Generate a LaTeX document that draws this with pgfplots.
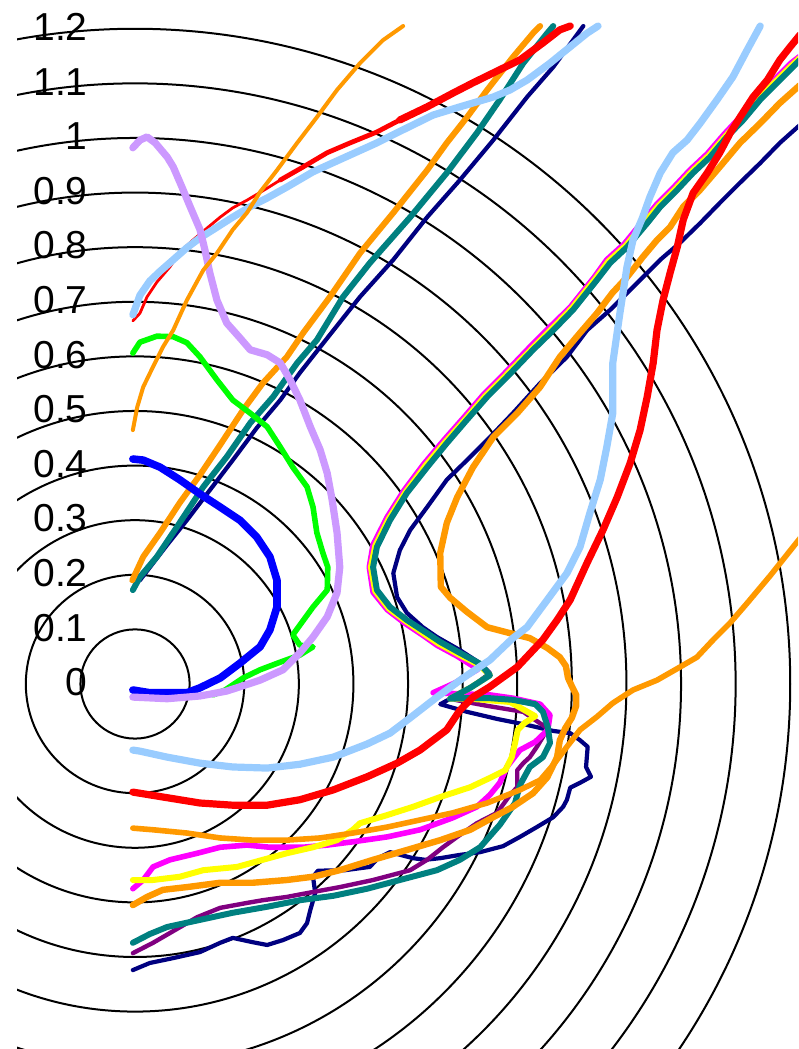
\documentclass[border=0pt]{standalone}
\usepackage{pgfplots}
\pgfplotsset{compat=1.18}
\usepackage{fontspec}
\setmainfont{Liberation Sans}
\definecolor{lav}{HTML}{CC99FF}
\definecolor{grn}{HTML}{00FF00}
\definecolor{blu}{HTML}{0000FF}
\definecolor{lblue}{HTML}{99CCFF}
\definecolor{rd}{HTML}{FF0000}
\definecolor{org}{HTML}{FF9900}
\definecolor{tl}{HTML}{008080}
\definecolor{nv}{HTML}{000080}
\definecolor{mg}{HTML}{FF00FF}
\definecolor{yl}{HTML}{FFFF00}
\definecolor{pp}{HTML}{800080}
\newcommand{\lbl}{\fontsize{19.5}{20}\selectfont}
\begin{document}
\begin{tikzpicture}
\begin{axis}[
  x=273pt, y=273pt,
  xmin=-0.2473, xmax=1.2143, ymin=-0.6685, ymax=1.2527,
  hide axis, clip=true,
  every axis plot/.append style={mark=none, line join=round, line cap=round},
]
\path (rel axis cs:0,0) rectangle (rel axis cs:1,1);
\begin{scope}
\clip (axis cs:-0.216,-0.6685) rectangle (axis cs:1.2143,1.2527);
\draw[line width=1pt] (axis cs:0,0) circle[radius=0.1];
\draw[line width=1pt] (axis cs:0,0) circle[radius=0.2];
\draw[line width=1pt] (axis cs:0,0) circle[radius=0.3];
\draw[line width=1pt] (axis cs:0,0) circle[radius=0.4];
\draw[line width=1pt] (axis cs:0,0) circle[radius=0.5];
\draw[line width=1pt] (axis cs:0,0) circle[radius=0.6];
\draw[line width=1pt] (axis cs:0,0) circle[radius=0.7];
\draw[line width=1pt] (axis cs:0,0) circle[radius=0.8];
\draw[line width=1pt] (axis cs:0,0) circle[radius=0.9];
\draw[line width=1pt] (axis cs:0,0) circle[radius=1.0];
\draw[line width=1pt] (axis cs:0,0) circle[radius=1.1];
\draw[line width=1pt] (axis cs:0,0) circle[radius=1.2];
\end{scope}
\node[anchor=east, inner sep=0pt, font=\lbl] at (axis cs:-0.086,0.004) {0};
\node[anchor=east, inner sep=0pt, font=\lbl] at (axis cs:-0.086,0.103) {0.1};
\node[anchor=east, inner sep=0pt, font=\lbl] at (axis cs:-0.086,0.203) {0.2};
\node[anchor=east, inner sep=0pt, font=\lbl] at (axis cs:-0.086,0.303) {0.3};
\node[anchor=east, inner sep=0pt, font=\lbl] at (axis cs:-0.086,0.403) {0.4};
\node[anchor=east, inner sep=0pt, font=\lbl] at (axis cs:-0.086,0.503) {0.5};
\node[anchor=east, inner sep=0pt, font=\lbl] at (axis cs:-0.086,0.603) {0.6};
\node[anchor=east, inner sep=0pt, font=\lbl] at (axis cs:-0.086,0.703) {0.7};
\node[anchor=east, inner sep=0pt, font=\lbl] at (axis cs:-0.086,0.803) {0.8};
\node[anchor=east, inner sep=0pt, font=\lbl] at (axis cs:-0.086,0.903) {0.9};
\node[anchor=east, inner sep=0pt, font=\lbl] at (axis cs:-0.086,1.003) {1};
\node[anchor=east, inner sep=0pt, font=\lbl] at (axis cs:-0.086,1.103) {1.1};
\node[anchor=east, inner sep=0pt, font=\lbl] at (axis cs:-0.086,1.203) {1.2};

% navy, right-hand trajectory
\addplot[draw=nv, line width=2.1pt] coordinates {
(-0.004,-0.524) (0.027,-0.511) (0.070,-0.502) (0.119,-0.491) (0.156,-0.474) (0.179,-0.465)
(0.216,-0.473) (0.242,-0.478) (0.271,-0.469) (0.302,-0.456) (0.315,-0.438) (0.321,-0.414)
(0.330,-0.383) (0.326,-0.353) (0.335,-0.342) (0.385,-0.341) (0.430,-0.335) (0.445,-0.319)
(0.467,-0.308) (0.509,-0.319) (0.531,-0.322) (0.559,-0.319) (0.595,-0.313) (0.632,-0.308)
(0.674,-0.297) (0.705,-0.280) (0.736,-0.262) (0.766,-0.244) (0.784,-0.225) (0.791,-0.212)
(0.797,-0.190) (0.815,-0.181) (0.835,-0.170) (0.826,-0.152) (0.829,-0.115) (0.815,-0.103)
(0.797,-0.090) (0.766,-0.086) (0.718,-0.075) (0.663,-0.064) (0.608,-0.051) (0.559,-0.037)
(0.614,-0.007) (0.650,0.020) (0.632,0.038) (0.595,0.062) (0.553,0.086) (0.527,0.104)
(0.498,0.130) (0.480,0.159) (0.473,0.203) (0.485,0.245) (0.504,0.282) (0.535,0.324)
(0.571,0.374) (0.608,0.410) (0.650,0.452) (0.692,0.496) (0.742,0.551) (0.791,0.599)
(0.828,0.648) (0.870,0.685) (0.901,0.716) (0.930,0.745) (0.962,0.777) (0.998,0.808)
(1.035,0.844) (1.071,0.881) (1.108,0.918) (1.145,0.954) (1.181,0.991) (1.218,1.024)
};
% purple
\addplot[draw=pp, line width=2.2pt] coordinates {
(-0.004,-0.493) (0.033,-0.474) (0.064,-0.456) (0.114,-0.427) (0.156,-0.410) (0.205,-0.401)
(0.234,-0.396) (0.278,-0.390) (0.315,-0.383) (0.375,-0.372) (0.436,-0.359) (0.504,-0.341)
(0.535,-0.322) (0.564,-0.299) (0.590,-0.280) (0.626,-0.255) (0.663,-0.236) (0.687,-0.203)
(0.700,-0.189) (0.700,-0.158) (0.711,-0.145) (0.723,-0.134) (0.736,-0.115) (0.747,-0.097)
(0.755,-0.081) (0.736,-0.068) (0.711,-0.051) (0.681,-0.046) (0.645,-0.040) (0.586,-0.029)
(0.614,-0.007) (0.650,0.016) (0.632,0.037) (0.595,0.057) (0.559,0.077) (0.535,0.093)
(0.498,0.117) (0.467,0.141) (0.443,0.172) (0.436,0.214) (0.443,0.251) (0.467,0.300)
(0.498,0.350) (0.535,0.397) (0.571,0.441) (0.608,0.484) (0.645,0.526) (0.681,0.562)
(0.729,0.612) (0.766,0.648) (0.802,0.685) (0.846,0.740) (0.870,0.771) (0.901,0.800)
(0.938,0.844) (0.962,0.874) (0.993,0.905) (1.022,0.936) (1.053,0.965) (1.084,1.002)
(1.114,1.033) (1.145,1.070) (1.176,1.101) (1.205,1.130) (1.218,1.143)
};
% magenta
\addplot[draw=mg, line width=2.8pt] coordinates {
(-0.004,-0.375) (0.015,-0.359) (0.033,-0.335) (0.064,-0.322) (0.114,-0.310) (0.156,-0.299)
(0.205,-0.295) (0.247,-0.299) (0.308,-0.299) (0.352,-0.295) (0.399,-0.289) (0.462,-0.280)
(0.522,-0.267) (0.582,-0.245) (0.626,-0.225) (0.650,-0.203) (0.668,-0.181) (0.681,-0.152)
(0.705,-0.121) (0.733,-0.106) (0.756,-0.084) (0.760,-0.057) (0.742,-0.037) (0.692,-0.026)
(0.650,-0.020) (0.595,-0.018) (0.546,-0.016) (0.586,0.002) (0.628,0.027) (0.590,0.051)
(0.553,0.071) (0.529,0.088) (0.493,0.112) (0.462,0.136) (0.436,0.168) (0.429,0.214)
(0.436,0.255) (0.462,0.306) (0.493,0.355) (0.529,0.403) (0.566,0.447) (0.603,0.489)
(0.639,0.531) (0.676,0.568) (0.723,0.617) (0.760,0.654) (0.797,0.690) (0.841,0.745)
(0.864,0.777) (0.896,0.806) (0.932,0.850) (0.956,0.879) (0.987,0.910) (1.016,0.941)
(1.048,0.971) (1.079,1.007) (1.108,1.038) (1.139,1.075) (1.170,1.106) (1.200,1.136)
(1.218,1.150)
};
% yellow
\addplot[draw=yl, line width=3pt] coordinates {
(-0.004,-0.359) (0.033,-0.359) (0.082,-0.353) (0.125,-0.341) (0.187,-0.335) (0.234,-0.322)
(0.278,-0.310) (0.326,-0.299) (0.370,-0.286) (0.399,-0.267) (0.412,-0.255) (0.462,-0.240)
(0.509,-0.225) (0.559,-0.207) (0.614,-0.189) (0.650,-0.172) (0.678,-0.158) (0.690,-0.134)
(0.696,-0.108) (0.701,-0.084) (0.714,-0.071) (0.733,-0.059) (0.687,-0.033) (0.614,-0.027)
(0.577,-0.027) (0.614,-0.007) (0.650,0.016) (0.630,0.035) (0.593,0.054) (0.556,0.074)
(0.532,0.090) (0.496,0.115) (0.465,0.138) (0.440,0.170) (0.432,0.214) (0.440,0.253)
(0.465,0.303) (0.496,0.352) (0.532,0.400) (0.569,0.444) (0.606,0.486) (0.642,0.528)
(0.679,0.565) (0.727,0.614) (0.764,0.651) (0.800,0.688) (0.843,0.742) (0.867,0.774)
(0.899,0.803) (0.935,0.847) (0.959,0.876) (0.990,0.907) (1.019,0.938) (1.051,0.968)
(1.082,1.004) (1.111,1.035) (1.142,1.072) (1.173,1.103) (1.203,1.133) (1.218,1.147)
};
% teal, right-hand trajectory
\addplot[draw=tl, line width=3pt] coordinates {
(-0.004,-0.474) (0.027,-0.458) (0.059,-0.445) (0.119,-0.432) (0.179,-0.419) (0.242,-0.408)
(0.302,-0.396) (0.363,-0.388) (0.425,-0.375) (0.485,-0.359) (0.553,-0.341) (0.595,-0.322)
(0.632,-0.299) (0.668,-0.258) (0.696,-0.218) (0.705,-0.185) (0.723,-0.152) (0.747,-0.134)
(0.760,-0.108) (0.756,-0.079) (0.747,-0.051) (0.733,-0.037) (0.692,-0.029) (0.650,-0.026)
(0.601,-0.026) (0.577,-0.027) (0.614,-0.007) (0.650,0.016) (0.632,0.037) (0.595,0.057)
(0.559,0.077) (0.535,0.093) (0.498,0.117) (0.467,0.141) (0.443,0.172) (0.436,0.214)
(0.443,0.251) (0.467,0.300) (0.498,0.350) (0.535,0.397) (0.571,0.441) (0.608,0.484)
(0.645,0.526) (0.681,0.562) (0.729,0.612) (0.766,0.648) (0.802,0.685) (0.846,0.740)
(0.870,0.771) (0.901,0.800) (0.938,0.844) (0.962,0.874) (0.993,0.905) (1.022,0.936)
(1.053,0.965) (1.084,1.002) (1.114,1.033) (1.145,1.070) (1.176,1.101) (1.205,1.130)
(1.218,1.143)
};
% orange B (lower, with loop)
\addplot[draw=org, line width=3.2pt] coordinates {
(-0.004,-0.405) (0.022,-0.390) (0.051,-0.377) (0.095,-0.372) (0.156,-0.364) (0.216,-0.364)
(0.278,-0.359) (0.326,-0.353) (0.375,-0.341) (0.436,-0.322) (0.498,-0.304) (0.559,-0.286)
(0.614,-0.267) (0.656,-0.244) (0.692,-0.225) (0.729,-0.200) (0.755,-0.171) (0.773,-0.134)
(0.778,-0.103) (0.788,-0.081) (0.800,-0.062) (0.808,-0.040) (0.808,-0.020) (0.800,-0.004)
(0.793,0.011) (0.789,0.033) (0.778,0.049) (0.755,0.066) (0.723,0.084) (0.687,0.093)
(0.645,0.104) (0.608,0.132) (0.577,0.158) (0.560,0.178) (0.559,0.240) (0.571,0.295)
(0.590,0.342) (0.619,0.397) (0.656,0.452) (0.700,0.496) (0.742,0.544) (0.778,0.599)
(0.815,0.643) (0.846,0.679) (0.874,0.716) (0.901,0.745) (0.930,0.782) (0.956,0.813)
(0.980,0.837) (1.004,0.874) (1.035,0.905) (1.071,0.947) (1.108,0.991) (1.145,1.027)
(1.181,1.064) (1.218,1.097)
};
% orange A (upper flat, then thin diagonal)
\addplot[draw=org, line width=2.8pt] coordinates {
(-0.004,-0.264) (0.033,-0.267) (0.095,-0.273) (0.156,-0.282) (0.216,-0.286) (0.278,-0.286)
(0.339,-0.282) (0.399,-0.273) (0.462,-0.262) (0.522,-0.249) (0.582,-0.236) (0.645,-0.218)
(0.705,-0.194) (0.742,-0.176) (0.766,-0.148) (0.791,-0.115) (0.815,-0.084) (0.846,-0.060)
(0.875,-0.035) (0.912,-0.011) (0.956,0.007) (0.998,0.031) (1.029,0.049) (1.059,0.081)
(1.090,0.112) (1.121,0.148) (1.163,0.198) (1.218,0.267)
};
% upper-left bundle: navy, teal, orange
\addplot[draw=nv, line width=2.1pt] coordinates {
(0.009,0.190) (0.059,0.255) (0.095,0.300) (0.137,0.355) (0.179,0.410) (0.223,0.469)
(0.266,0.520) (0.302,0.570) (0.339,0.617) (0.381,0.670) (0.412,0.709) (0.473,0.777)
(0.535,0.855) (0.595,0.923) (0.656,0.996) (0.718,1.075) (0.766,1.130) (0.802,1.179)
(0.821,1.205)
};
\addplot[draw=tl, line width=3pt] coordinates {
(-0.004,0.172) (0.009,0.196) (0.040,0.233) (0.077,0.288) (0.125,0.361) (0.168,0.416)
(0.211,0.478) (0.253,0.526) (0.297,0.588) (0.333,0.630) (0.381,0.709) (0.430,0.771)
(0.504,0.855) (0.571,0.936) (0.626,1.009) (0.668,1.070) (0.711,1.137) (0.755,1.192)
(0.766,1.205)
};
\addplot[draw=org, line width=3pt] coordinates {
(-0.005,0.190) (0.015,0.233) (0.046,0.277) (0.082,0.332) (0.119,0.383) (0.156,0.438)
(0.198,0.502) (0.234,0.551) (0.278,0.599) (0.308,0.643) (0.357,0.709) (0.412,0.789)
(0.473,0.863) (0.535,0.941) (0.571,0.991) (0.608,1.038) (0.645,1.088) (0.692,1.148)
(0.729,1.192) (0.742,1.205)
};
% red, lower trajectory
\addplot[draw=rd, line width=3.6pt] coordinates {
(-0.004,-0.198) (0.051,-0.207) (0.119,-0.218) (0.179,-0.222) (0.242,-0.222) (0.302,-0.212)
(0.363,-0.194) (0.425,-0.170) (0.480,-0.145) (0.522,-0.121) (0.571,-0.084) (0.595,-0.048)
(0.619,-0.024) (0.650,-0.005) (0.700,0.031) (0.747,0.081) (0.773,0.117) (0.797,0.154)
(0.828,0.222) (0.857,0.282) (0.883,0.342) (0.907,0.405) (0.925,0.465) (0.938,0.526)
(0.949,0.588) (0.956,0.648) (0.967,0.703) (0.980,0.753) (0.993,0.800) (1.004,0.850)
(1.022,0.899) (1.048,0.936) (1.071,0.973) (1.090,1.009) (1.108,1.038) (1.132,1.075)
(1.158,1.106) (1.181,1.143) (1.200,1.167) (1.218,1.189)
};
% red, upper trajectory (thin, then thick)
\addplot[draw=rd, line width=1.4pt] coordinates {
(-0.004,0.665) (0.009,0.679) (0.022,0.709) (0.040,0.736) (0.064,0.764) (0.082,0.791)
(0.106,0.813) (0.132,0.835) (0.156,0.855) (0.179,0.872) (0.205,0.886) (0.242,0.908)
(0.266,0.923)
};
\addplot[draw=rd, line width=2.4pt] coordinates {
(0.266,0.923) (0.308,0.947) (0.352,0.973) (0.394,0.991) (0.443,1.011) (0.485,1.033)
};
\addplot[draw=rd, line width=3.6pt] coordinates {
(0.485,1.033) (0.535,1.057) (0.582,1.082) (0.619,1.101) (0.668,1.125) (0.705,1.143)
(0.747,1.174) (0.778,1.198) (0.797,1.205)
};
% light blue, lower trajectory
\addplot[draw=lblue, line width=3.6pt] coordinates {
(-0.004,-0.121) (0.009,-0.123) (0.059,-0.134) (0.119,-0.145) (0.179,-0.152) (0.242,-0.154)
(0.302,-0.147) (0.363,-0.134) (0.425,-0.110) (0.467,-0.090) (0.504,-0.062) (0.553,-0.024)
(0.601,0.011) (0.650,0.044) (0.692,0.084) (0.718,0.104) (0.755,0.154) (0.791,0.203)
(0.815,0.251) (0.833,0.313) (0.852,0.374) (0.864,0.434) (0.875,0.496) (0.875,0.588)
(0.888,0.679) (0.901,0.764) (0.912,0.813) (0.929,0.853) (0.943,0.892) (0.962,0.936)
(0.985,0.973) (1.011,0.996) (1.035,1.027) (1.066,1.070) (1.095,1.112) (1.121,1.161)
(1.145,1.205)
};
% light blue, upper trajectory
\addplot[draw=lblue, line width=3.6pt] coordinates {
(-0.004,0.676) (0.009,0.712) (0.027,0.738) (0.046,0.756) (0.070,0.777) (0.095,0.799)
(0.119,0.817) (0.143,0.832) (0.179,0.855) (0.216,0.877) (0.242,0.890) (0.278,0.910)
(0.326,0.938) (0.381,0.963) (0.443,0.991) (0.491,1.015) (0.546,1.042) (0.595,1.057)
(0.656,1.075) (0.687,1.088) (0.718,1.106) (0.760,1.137) (0.797,1.167) (0.828,1.192)
(0.848,1.205)
};
% blue
\addplot[draw=blu, line width=3.8pt] coordinates {
(-0.004,0.412) (0.015,0.410) (0.046,0.397) (0.082,0.374) (0.119,0.348) (0.156,0.324)
(0.192,0.300) (0.223,0.269) (0.247,0.233) (0.260,0.190) (0.260,0.141) (0.247,0.099)
(0.229,0.068) (0.192,0.038) (0.156,0.011) (0.119,-0.007) (0.095,-0.016) (0.027,-0.016)
(-0.004,-0.011)
};
% green
\addplot[draw=grn, line width=2.8pt] coordinates {
(-0.004,0.606) (0.009,0.626) (0.040,0.637) (0.070,0.636) (0.095,0.625) (0.119,0.599)
(0.150,0.557) (0.179,0.520) (0.211,0.496) (0.242,0.471) (0.266,0.434) (0.289,0.397)
(0.315,0.361) (0.326,0.324) (0.333,0.277) (0.344,0.240) (0.353,0.214) (0.352,0.172)
(0.326,0.141) (0.302,0.108) (0.289,0.090) (0.302,0.071) (0.326,0.068) (0.302,0.053)
(0.266,0.040) (0.229,0.026) (0.198,0.011) (0.165,-0.011) (0.143,-0.020)
};
% lavender
\addplot[draw=lav, line width=3.6pt] coordinates {
(-0.004,-0.024) (0.059,-0.027) (0.119,-0.022) (0.168,-0.013) (0.229,0.007) (0.271,0.026)
(0.302,0.057) (0.326,0.086) (0.352,0.123) (0.370,0.167) (0.375,0.214) (0.370,0.277)
(0.361,0.337) (0.352,0.386) (0.339,0.429) (0.321,0.471) (0.302,0.520) (0.284,0.557)
(0.266,0.588) (0.242,0.603) (0.211,0.612) (0.192,0.634) (0.168,0.661) (0.150,0.703)
(0.137,0.753) (0.128,0.795) (0.119,0.832) (0.101,0.874) (0.086,0.910) (0.070,0.947)
(0.059,0.965) (0.037,0.991) (0.022,1.002) (0.009,0.996) (-0.004,0.982)
};
% thin orange, upper left
\addplot[draw=org, line width=2pt] coordinates {
(-0.004,0.465) (0.004,0.507) (0.015,0.544) (0.033,0.581) (0.051,0.617) (0.070,0.648)
(0.095,0.703) (0.125,0.758) (0.150,0.789) (0.179,0.832) (0.205,0.863) (0.229,0.901)
(0.260,0.941) (0.297,0.991) (0.333,1.038) (0.370,1.088) (0.412,1.137) (0.454,1.179)
(0.491,1.205)
};
\end{axis}
\end{tikzpicture}
\end{document}
